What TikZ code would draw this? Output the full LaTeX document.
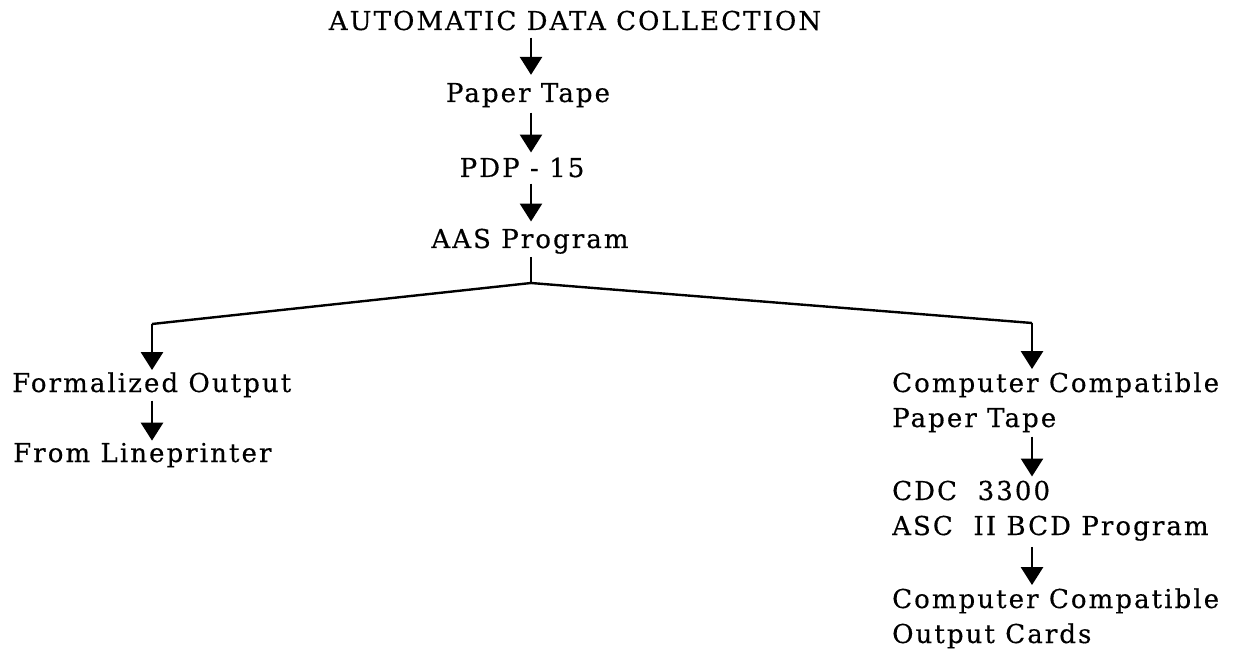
\documentclass[tikz,border=0pt]{standalone}
\usepackage{fontspec}
\usetikzlibrary{arrows.meta}
\setmainfont{DejaVu Serif}
\newfontfamily\twfont{DejaVu Serif}[LetterSpace=8, FakeBold=0.4]

\tikzset{
  label text/.style={inner sep=0pt, font=\twfont\fontsize{26pt}{35pt}\selectfont, align=left},
  flow arrow/.style={line width=2.8pt, -{Triangle[width=22pt,length=18pt]}},
  branch line/.style={line width=2.4pt, line join=miter},
}

\begin{document}
\begin{tikzpicture}[x=1pt, y=-1pt]
  \useasboundingbox (0,0) rectangle (1236,652);

  % main chain
  \node[label text, anchor=base] (auto) at (575,30) {AUTOMATIC DATA COLLECTION};
  \node[label text, anchor=base] (tape) at (528,102) {Paper Tape};
  \node[label text, anchor=base] (pdp)  at (522,177) {PDP - 15};
  \node[label text, anchor=base] (aas)  at (530,248) {AAS Program};

  % branch points
  \coordinate (fork)  at (531,283);
  \coordinate (lturn) at (152,324);
  \coordinate (rturn) at (1032,323);

  % left branch
  \node[label text, anchor=base west] (form) at (12,392) {Formalized Output};
  \node[label text, anchor=base west] (lp)   at (13,462) {From Lineprinter};

  % right branch (multi-line nodes are placed by their last baseline)
  \node[label text, anchor=base west] (cct)  at (892,427) {Computer Compatible\\Paper Tape};
  \node[label text, anchor=base west] (cdc)  at (892,535) {CDC\ \ 3300\\ASC\ \ II BCD Program};
  \node[label text, anchor=base west] (cards) at (892,643) {Computer Compatible\\Output Cards};

  % connectors
  \draw[flow arrow, shorten <=7pt, shorten >=8pt] (auto.south -| fork) -- (tape.north -| fork);
  \draw[flow arrow, shorten <=5pt, shorten >=5pt] (tape.south -| fork) -- (pdp.north -| fork);
  \draw[flow arrow, shorten <=6pt, shorten >=7pt] (pdp.south -| fork) -- (aas.north -| fork);
  \draw[branch line, shorten <=3pt] (aas.south -| fork) -- (fork);

  \draw[branch line] (fork) -- (lturn);
  \draw[flow arrow, shorten >=2pt] (lturn) -- (lturn |- form.north);
  \draw[branch line] (fork) -- (rturn);
  \draw[flow arrow, shorten >=3pt] (rturn) -- (rturn |- cct.north);

  \draw[flow arrow, shorten <=3pt, shorten >=2pt] (form.south -| lturn) -- (lp.north -| lturn);
  \draw[flow arrow, shorten <=4pt, shorten >=4pt] (cct.south -| rturn) -- (cdc.north -| rturn);
  \draw[flow arrow, shorten <=6pt, shorten >=3pt] (cdc.south -| rturn) -- (cards.north -| rturn);
\end{tikzpicture}
\end{document}
